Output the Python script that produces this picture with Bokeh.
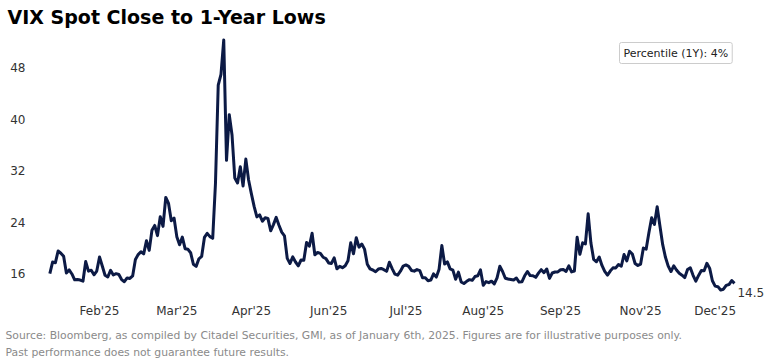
from bokeh.plotting import figure
from bokeh.models import Range1d, FixedTicker, Label, Title, ColumnDataSource
from bokeh.embed import file_html
from bokeh.resources import INLINE

# VIX daily closes, Jan 6 2025 .. Jan 2 2026
jan25 = [16.04, 17.82, 17.70, 19.54, 19.19, 18.71, 16.12, 16.60, 15.97, 15.06, 15.10, 15.02, 14.85, 17.90, 16.41, 16.56, 15.84, 16.43]
feb25 = [18.62, 17.21, 15.77, 15.50, 16.54, 15.81, 16.02, 15.89, 15.10, 14.77, 15.35, 15.27, 15.66, 18.21, 18.98, 19.43, 19.10, 21.13, 19.63]
mar25 = [22.78, 23.51, 21.93, 24.87, 23.37, 27.86, 26.92, 24.23, 24.66, 21.77, 20.51, 21.70, 19.90, 19.80, 19.28, 17.48, 17.15, 18.33, 18.69, 21.65, 22.28]
apr25 = [21.77, 21.51, 30.02, 45.31, 46.98, 52.33, 33.62, 40.72, 37.56, 30.89, 30.12, 32.64, 29.65, 33.82, 30.57, 28.45, 26.47, 24.84, 25.15, 24.17, 24.70]
may25 = [24.60, 22.68, 23.64, 24.76, 23.55, 22.48, 21.90, 18.39, 17.61, 18.62, 17.83, 17.24, 18.14, 18.09, 20.87, 20.28, 22.29, 18.96, 19.31, 19.18, 18.57]
jun25 = [18.36, 17.69, 17.61, 18.48, 16.77, 17.16, 16.95, 17.26, 18.02, 20.82, 19.11, 21.60, 20.14, 20.62, 19.83, 17.48, 16.76, 16.59, 16.32, 16.73]
jul25 = [16.83, 16.64, 16.38, 17.79, 16.81, 15.94, 15.78, 16.40, 17.20, 17.38, 17.16, 16.52, 16.41, 16.65, 16.50, 15.37, 15.39, 14.93, 15.03, 15.98, 15.48, 16.72]
aug25 = [20.38, 17.52, 17.85, 16.77, 16.57, 15.15, 16.25, 14.73, 14.49, 14.83, 15.09, 14.99, 15.57, 15.69, 16.60, 14.22, 14.79, 14.62, 14.85, 14.43, 15.36]
sep25 = [17.17, 16.35, 15.30, 15.18, 15.11, 15.04, 15.35, 14.71, 14.76, 15.69, 16.36, 15.72, 15.70, 15.45, 16.10, 16.64, 16.18, 16.74, 15.29, 16.12, 16.28]
oct25 = [16.29, 16.63, 16.65, 16.37, 17.24, 16.30, 16.43, 21.66, 19.03, 20.81, 20.64, 25.31, 20.78, 18.23, 17.87, 18.60, 17.30, 16.37, 15.79, 16.42, 16.92, 16.91, 17.44]
nov25 = [17.17, 19.00, 18.01, 19.50, 19.08, 17.60, 17.28, 17.51, 20.00, 19.83, 22.38, 24.69, 23.66, 26.42, 23.43, 20.52, 18.56, 17.19, 16.35]
dec25 = [17.24, 16.59, 16.08, 15.78, 15.41, 16.66, 16.93, 15.77, 14.85, 15.74, 16.50, 16.48, 17.62, 16.87, 14.91, 14.08, 14.00, 13.47, 13.60, 14.20, 14.33, 14.95]
jan26 = [14.51]

vix = jan25 + feb25 + mar25 + apr25 + may25 + jun25 + jul25 + aug25 + sep25 + oct25 + nov25 + dec25 + jan26
idx = list(range(len(vix)))

tick_pos = [18, 46, 73, 101, 129, 157, 185, 214, 241]
tick_labels = ["Feb'25", "Mar'25", "Apr'25", "Jun'25", "Jul'25", "Aug'25", "Sep'25", "Nov'25", "Dec'25"]
y_ticks = [16, 24, 32, 40, 48]

title_text = "VIX Spot Close to 1-Year Lows"
percentile_text = "Percentile (1Y): 4%"
source_line1 = "Source: Bloomberg, as compiled by Citadel Securities, GMI, as of January 6th, 2025. Figures are for illustrative purposes only."
source_line2 = "Past performance does not guarantee future results."

FONT = "DejaVu Sans"
NAVY = "#0c1a45"

p = figure(width=766, height=359, output_backend="svg", toolbar_location=None,
           x_range=Range1d(-7.0, 259.6), y_range=Range1d(12.16, 53.02),
           min_border_left=30, min_border_right=0, min_border_top=35, min_border_bottom=61)
p.outline_line_color = None
p.background_fill_color = "white"
p.grid.grid_line_color = None

src = ColumnDataSource(dict(x=idx, y=vix))
p.line("x", "y", source=src, line_color=NAVY, line_width=3, line_join="round")

for ax in (p.xaxis[0], p.yaxis[0]):
    ax.axis_line_color = None
    ax.major_tick_line_color = None
    ax.minor_tick_line_color = None
    ax.major_tick_out = 0
    ax.major_tick_in = 0
    ax.minor_tick_out = 0
    ax.major_label_text_font = FONT
    ax.major_label_text_font_size = "12px"
    ax.major_label_text_color = "#333333"

p.xaxis.ticker = FixedTicker(ticks=tick_pos)
p.xaxis.major_label_overrides = {t: l for t, l in zip(tick_pos, tick_labels)}
p.xaxis.major_label_standoff = 5
p.yaxis.ticker = FixedTicker(ticks=y_ticks)
p.yaxis.major_label_standoff = 5

p.title.text = title_text
p.title.text_font = FONT
p.title.text_font_style = "bold"
p.title.text_font_size = "19px"
p.title.text_color = "#000000"
p.title.align = "left"
p.title.vertical_align = "top"
p.title.offset = -23
p.title.standoff = 11

src1 = Title(text=source_line1, align="left", offset=-25, text_font=FONT, text_font_style="normal",
             text_font_size="10.8px", text_color="#8a8a8a", standoff=13)
src2 = Title(text=source_line2, align="left", offset=-25, text_font=FONT, text_font_style="normal",
             text_font_size="10.8px", text_color="#8a8a8a", standoff=-9)
p.add_layout(src1, "below")
p.add_layout(src2, "below")

p.add_layout(Label(x=589, y=245.5, x_units="screen", y_units="screen", text=percentile_text,
                   text_font=FONT, text_font_size="11px", text_color="#222222",
                   text_baseline="middle", padding=4, border_line_color="#cccccc",
                   background_fill_color="white", border_radius=2))

p.add_layout(Label(x=idx[-1], y=vix[-1], x_offset=3, y_offset=-9, text=f"{vix[-1]:.1f}",
                   text_font=FONT, text_font_size="12px", text_color="#333333",
                   text_baseline="middle"))

open("out.html", "w").write(file_html(p, INLINE))
